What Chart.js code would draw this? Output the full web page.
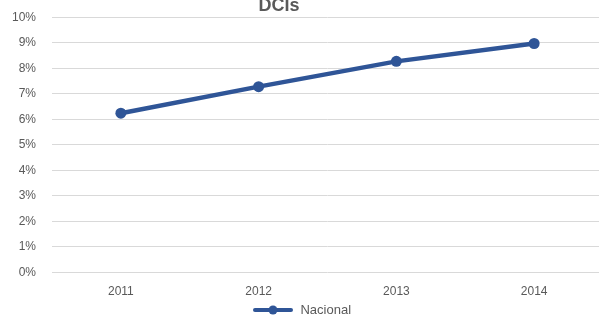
<!DOCTYPE html>
<html>
<head>
<meta charset="utf-8">
<script src="https://cdn.jsdelivr.net/npm/chart.js@4.4.0/dist/chart.umd.min.js"></script>
<style>
  html, body { margin: 0; padding: 0; background: #fff; overflow: hidden; }
  #wrap { position: relative; width: 603px; height: 319px; overflow: hidden; }
  #graficoDCIs { position: absolute; left: 0; top: -6px; }
  #titulo {
    position: absolute; left: 229px; width: 100px; top: -5px;
    text-align: center; font: bold 18px "Liberation Sans", sans-serif; color: #595959;
  }
</style>
</head>
<body>
<div id="wrap">
  <canvas id="graficoDCIs" width="603" height="326"></canvas>
  <div id="titulo">DCIs</div>
</div>
<script>
const anios = ['2011', '2012', '2013', '2014'];
const nacional = [6.24, 7.28, 8.27, 8.97];
const ticksY = [0, 1, 2, 3, 4, 5, 6, 7, 8, 9, 10];

const azul = '#2F5597';
const gris = '#595959';

// icono de la leyenda: linea con punto
const icono = document.createElement('canvas');
icono.width = 42; icono.height = 12;
const ic = icono.getContext('2d');
ic.strokeStyle = azul; ic.lineWidth = 4; ic.lineCap = 'round';
ic.beginPath(); ic.moveTo(3, 6); ic.lineTo(39, 6); ic.stroke();
ic.fillStyle = azul;
ic.beginPath(); ic.arc(21, 6, 4.5, 0, Math.PI * 2); ic.fill();

const ctx = document.getElementById('graficoDCIs');

new Chart(ctx, {
    type: 'line',
    data: {
        labels: anios,
        datasets: [{
            label: 'Nacional',
            data: nacional,
            borderColor: azul,
            backgroundColor: azul,
            borderWidth: 4.5,
            pointRadius: 5.5,
            pointBorderWidth: 0,
            pointHoverRadius: 5.5,
            tension: 0
        }]
    },
    options: {
        responsive: false,
        animation: false,
        layout: { autoPadding: false, padding: { top: 15.5, left: 0, right: 0, bottom: -6.5 } },
        plugins: {
            title: { display: false },
            tooltip: { enabled: false },
            legend: {
                position: 'bottom',
                labels: {
                    color: gris,
                    font: { family: 'Liberation Sans', size: 13 },
                    padding: 2,
                    boxHeight: 12,
                    usePointStyle: true,
                    pointStyleWidth: 42,
                    generateLabels: function(chart) {
                        return [{
                            text: 'Nacional',
                            pointStyle: icono,
                            fontColor: gris,
                            datasetIndex: 0,
                            lineWidth: 0
                        }];
                    }
                }
            }
        },
        scales: {
            x: {
                offset: true,
                grid: { display: false, drawTicks: false },
                border: { display: false },
                ticks: {
                    color: gris,
                    font: { family: 'Liberation Sans', size: 12 },
                    padding: 12,
                    maxRotation: 0
                },
                afterFit: function(s) { s.height = 29; }
            },
            y: {
                min: 0,
                max: 10,
                afterBuildTicks: function(s) { s.ticks = ticksY.map(v => ({ value: v })); },
                grid: { color: '#D9D9D9', lineWidth: 1, drawTicks: false },
                border: { display: false },
                ticks: {
                    color: gris,
                    font: { family: 'Liberation Sans', size: 12 },
                    padding: 16,
                    callback: function(v) { return v + '%'; }
                },
                afterFit: function(s) { s.width = 52; }
            }
        }
    }
});
</script>
</body>
</html>
